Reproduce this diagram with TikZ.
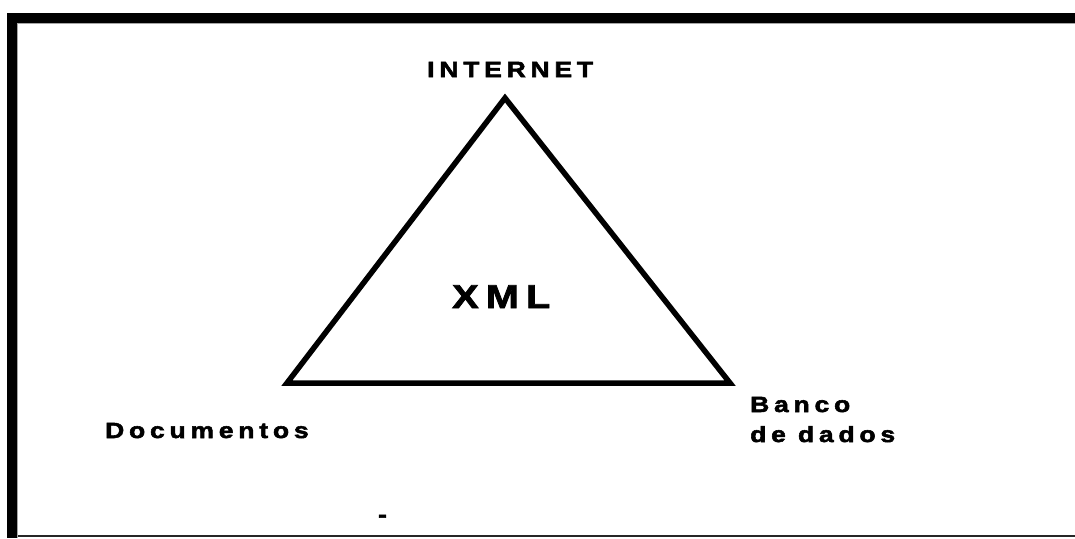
\documentclass[tikz,border=0pt]{standalone}
\usepackage{fontspec}
\setmainfont{Liberation Sans}
\newfontfamily\labelfont{Liberation Sans}[FakeStretch=1.2,LetterSpace=22,BoldFeatures={FakeBold=2.5}]
\begin{document}
\begin{tikzpicture}[x=1pt,y=-1pt,
    lbl/.style={font=\labelfont\bfseries\fontsize{22}{26}\selectfont, inner sep=0pt, anchor=base west, text=black},
    big/.style={font=\labelfont\bfseries\fontsize{33}{38}\selectfont, inner sep=0pt, anchor=base west, text=black},
    edge/.style={line width=5.5pt, line join=miter, black}]
  % canvas
  \fill[white] (0,0) rectangle (1075,538);
  \useasboundingbox (0,0) rectangle (1075,538);
  % frame: heavy top and left bands, thin bottom rule
  \fill[black] (7,13) rectangle (1075,22.5);
  \fill[black] (7,13) rectangle (17,538);
  \fill[black!85] (17,535.3) rectangle (1075,537.3);
  \draw[gray!70, line width=1pt] (17.5,538) -- (17.5,23) -- (1075,23);

  % triangle corners
  \coordinate (top) at (505,98);
  \coordinate (left) at (287,383);
  \coordinate (right) at (730,383);
  \draw[edge] (top) -- (right) -- (left) -- cycle;

  % labels
  \node[lbl] (internet) at (427,77) {INTERNET};
  \node[big] (xml) at (452,308) {XML};
  \node[lbl] (docs) at (105,438) {Documentos};
  \node[lbl] (banco) at (750,412) {Banco};
  \node[lbl] (dados) at (750,442) {de dados};
  \node[lbl] (dash) at (378,522) {-};
\end{tikzpicture}
\end{document}
